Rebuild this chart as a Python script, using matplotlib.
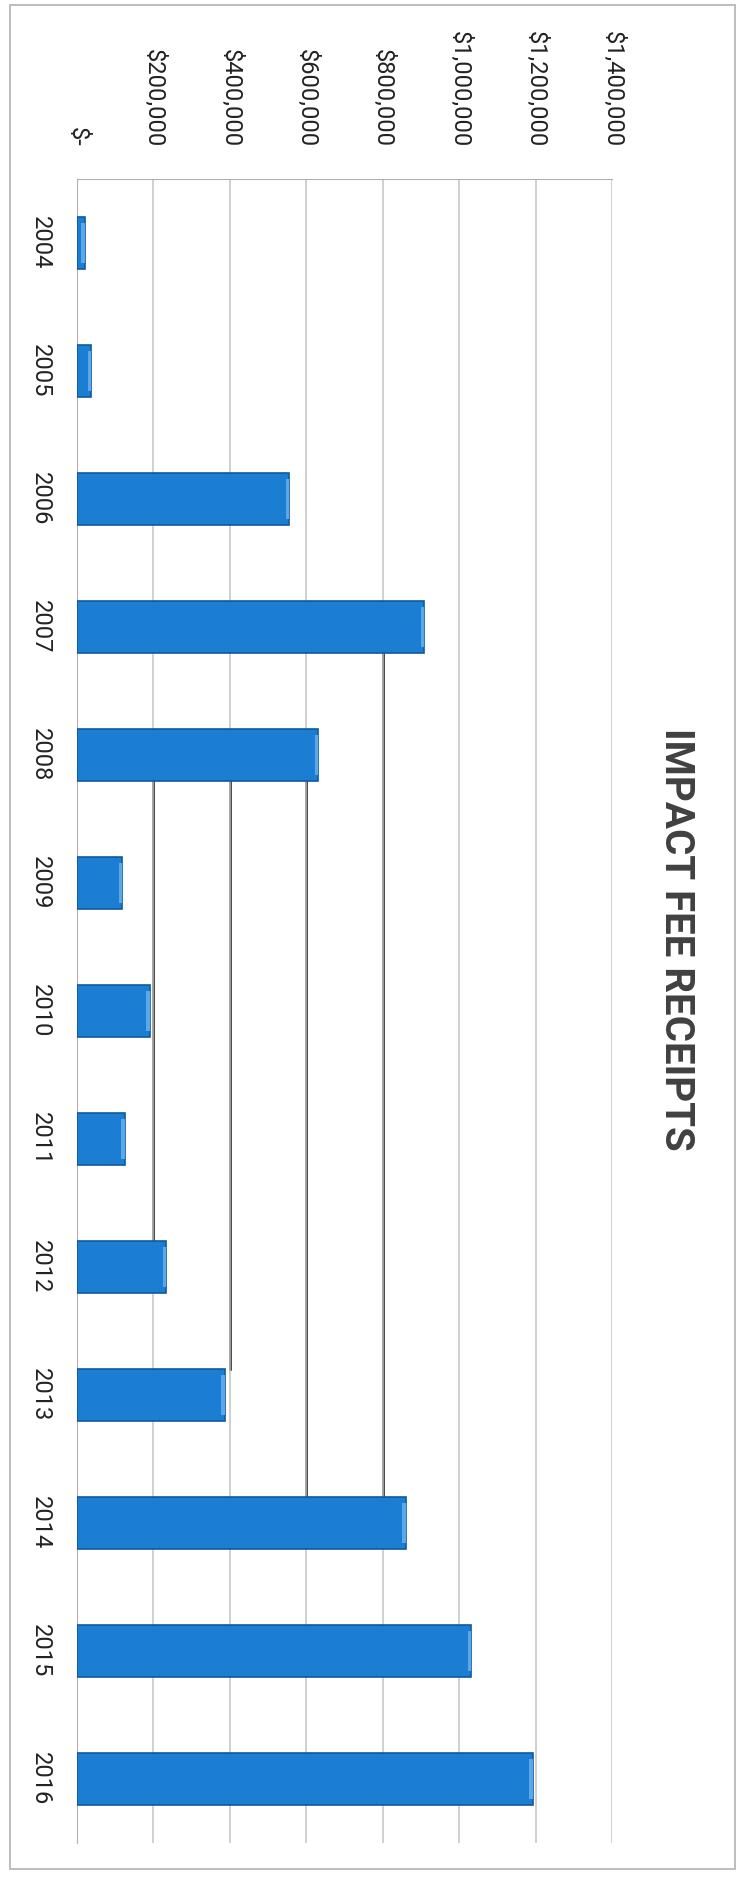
import numpy as np
import matplotlib
matplotlib.use("Agg")
import matplotlib.pyplot as plt
from matplotlib.patches import Rectangle

plt.rcParams['font.family'] = ['Roboto', 'DejaVu Sans']

# impact fee receipts per year
years = ['2004', '2005', '2006', '2007', '2008', '2009', '2010',
         '2011', '2012', '2013', '2014', '2015', '2016']
receipts = [20000, 37000, 556000, 909000, 631000, 118000, 190000,
            125000, 233000, 386000, 860000, 1032000, 1192000]
value_ticks = [0, 200000, 400000, 600000, 800000, 1000000, 1200000, 1400000]
tick_labels = ['$-', '$200,000', '$400,000', '$600,000', '$800,000',
               '$1,000,000', '$1,200,000', '$1,400,000']
# darker gridline pieces visible in the scan: (value, from year, to year)
dark_lines = [(200000, '2008', '2012'), (400000, '2008', '2013'),
              (600000, '2008', '2014'), (800000, '2007', '2014')]

W, H = 743, 1877
fig = plt.figure(figsize=(W / 100, H / 100), dpi=100)
fig.patch.set_facecolor('white')

# chart border
fig.add_artist(Rectangle((10 / W, 1 - 1869 / H), (735 - 10) / W, (1869 - 5) / H,
                         transform=fig.transFigure, fill=False,
                         edgecolor='#b8b8b8', lw=1.3))

left, right, top, bottom = 77, 612, 179, 1843
ax = fig.add_axes([left / W, 1 - bottom / H, (right - left) / W, (bottom - top) / H])

pos = np.arange(len(years))
bh = 0.4
vals = np.array(receipts)
ax.barh(pos, vals, height=bh, color='#1c7ed3', edgecolor='#0e5aa0', lw=1.2, zorder=3)
# lighter bevel at bar ends
cap = 9000
ax.barh(pos, np.minimum(cap, vals), left=vals - np.minimum(cap, vals), height=bh * 0.8,
        color='#5aa8ea', lw=0, zorder=4)

ax.set_xlim(0, 1400000)
ax.set_ylim(len(years) - 0.5, -0.5)

ax.set_xticks(value_ticks)
ax.set_xticklabels(tick_labels, rotation=-90, fontsize=17, color='#222222')
ax.xaxis.tick_top()
ax.tick_params(axis='x', length=0, pad=23)

ax.set_yticks(pos)
ax.set_yticklabels(years, rotation=-90, va='center', fontsize=17, color='#222222')
ax.tick_params(axis='y', length=0, pad=18)

ax.grid(axis='x', color='#c4c4c4', lw=1.1, zorder=0)
for v, y0, y1 in dark_lines:
    a = years.index(y0) + bh / 2
    b = years.index(y1) - bh / 2
    ax.plot([v, v], [a, b], color='#111111', lw=1.8, zorder=1)

for s in ['right', 'bottom']:
    ax.spines[s].set_visible(False)
ax.spines['top'].set_color('#b0b0b0')
ax.spines['left'].set_color('#b0b0b0')

fig.text(676 / W, 1 - 939 / H, 'IMPACT FEE RECEIPTS', rotation=-90,
         ha='center', va='center', fontsize=29, fontweight='bold', color='#404040')

fig.savefig('out.png', dpi=100, facecolor='white')
